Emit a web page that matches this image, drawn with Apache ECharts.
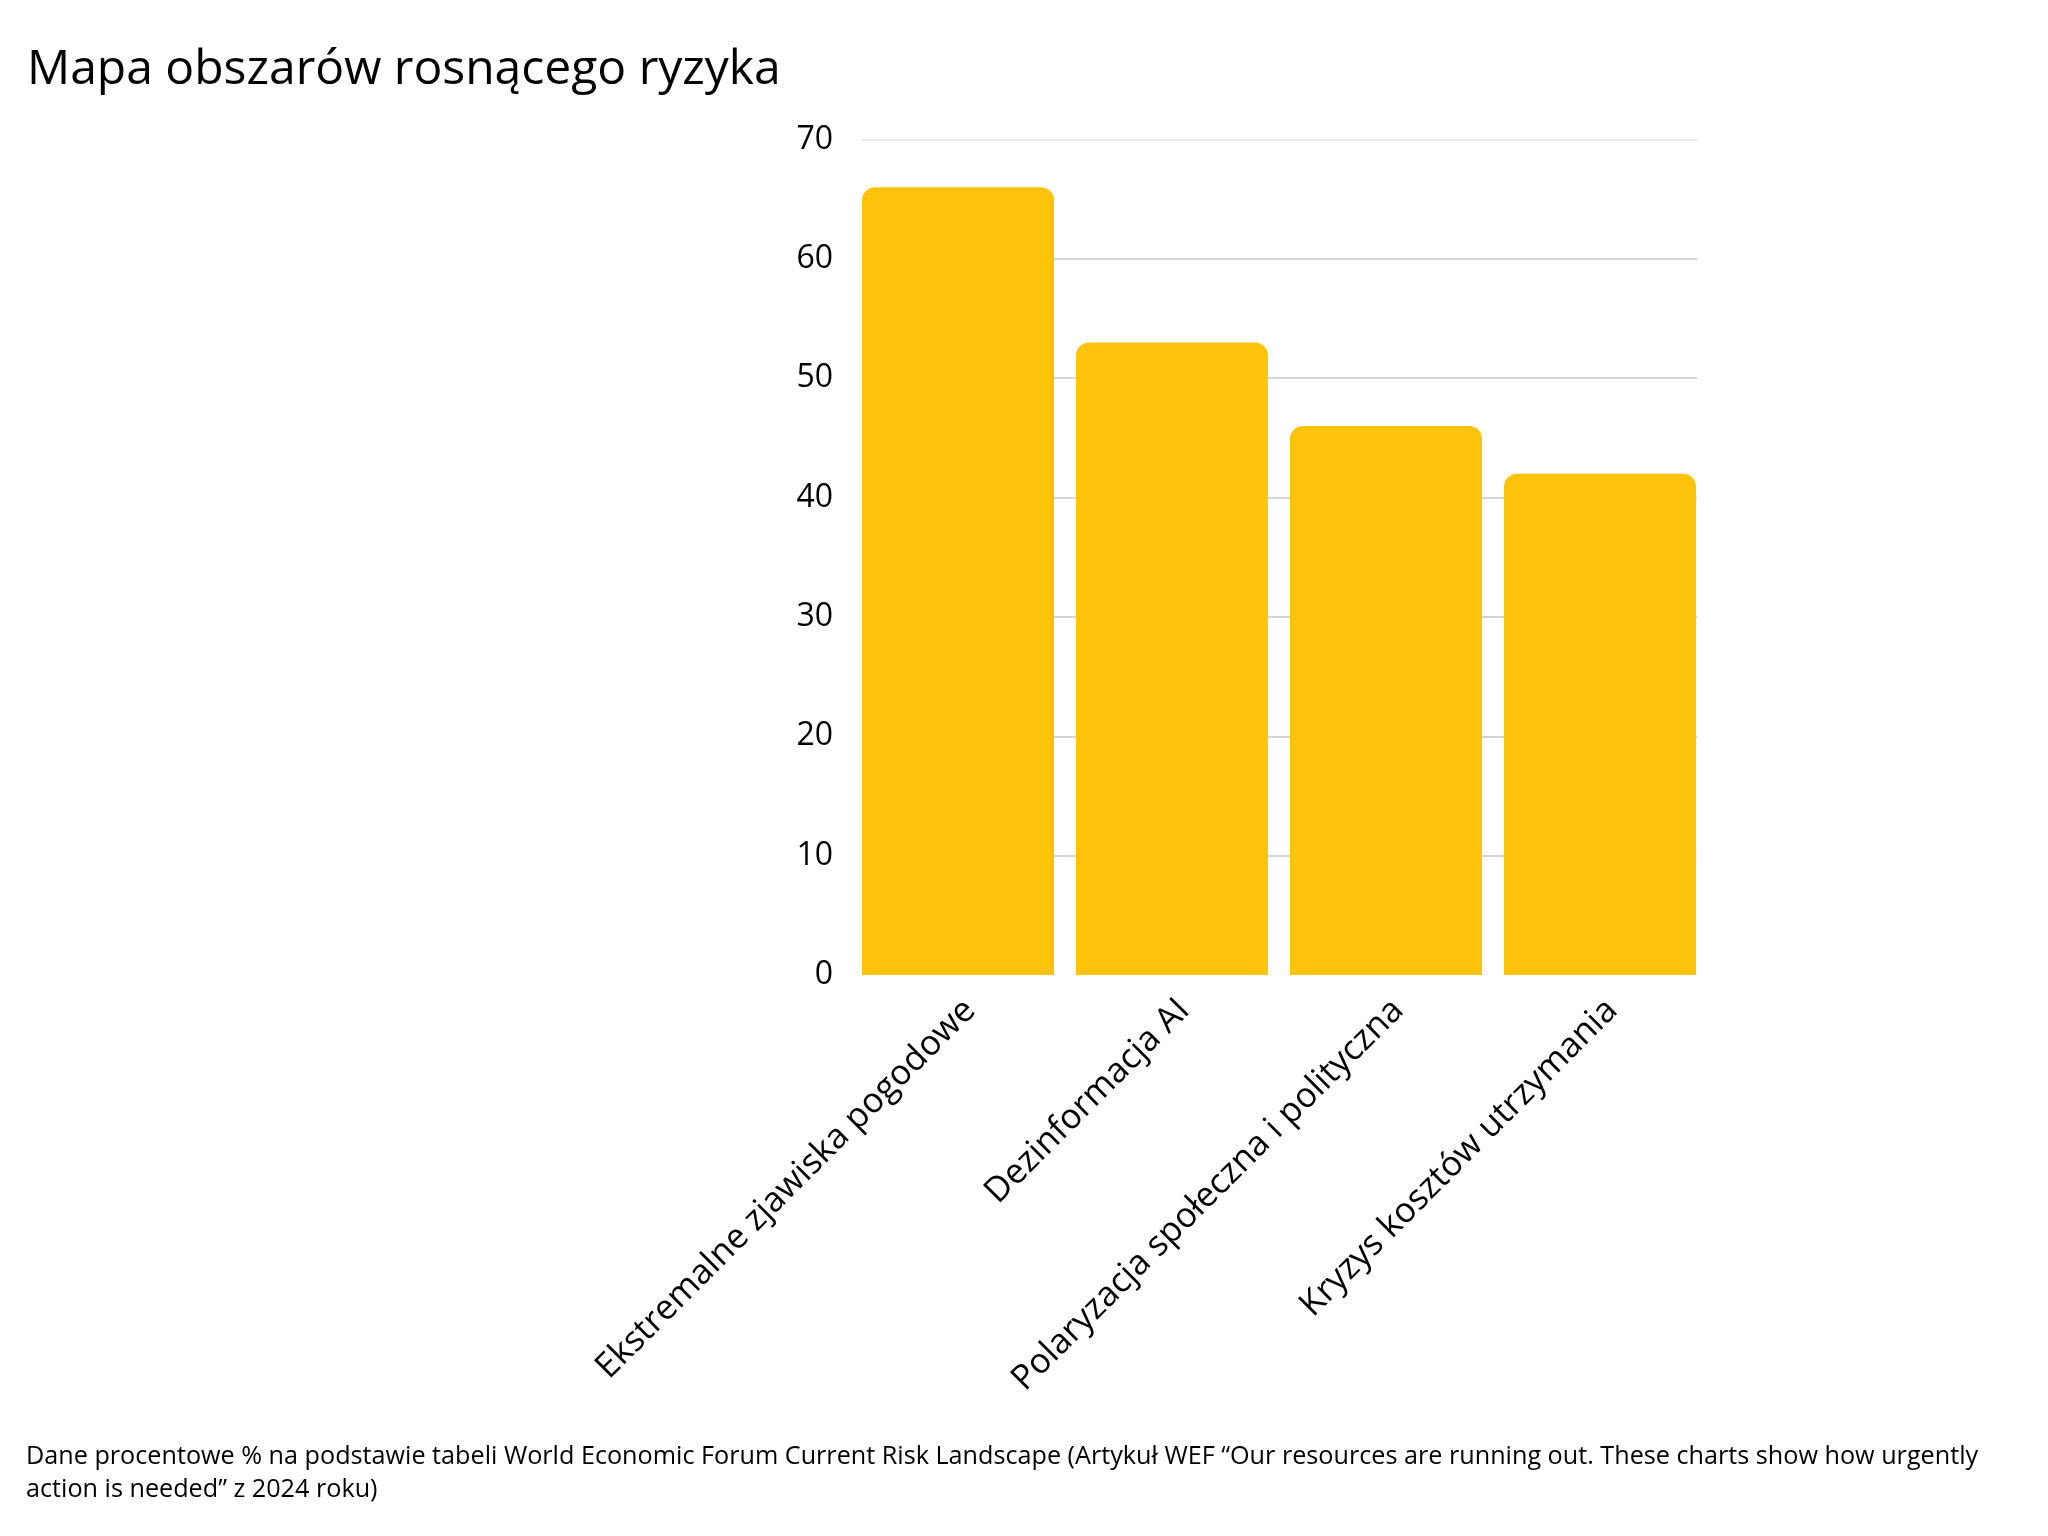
<!DOCTYPE html>
<html>
<head>
<meta charset="utf-8">
<script src="https://cdn.jsdelivr.net/npm/echarts@6/dist/echarts.min.js"></script>
<style>
html,body{margin:0;padding:0;background:#fff;}
#chart{width:2048px;height:1536px;}
</style>
</head>
<body>
<div id="chart"></div>
<script>
const titleText = 'Mapa obszarów rosnącego ryzyka';
const categories = ['Ekstremalne zjawiska pogodowe', 'Dezinformacja AI', 'Polaryzacja społeczna i polityczna', 'Kryzys kosztów utrzymania'];
const values = [66, 53, 46, 42];
const yTicks = [0, 10, 20, 30, 40, 50, 60, 70];
const footnoteLines = [
  'Dane procentowe % na podstawie tabeli World Economic Forum Current Risk Landscape (Artykuł WEF \u201cOur resources are running out. These charts show how urgently',
  'action is needed\u201d z 2024 roku)'
];

const FONT = '"Open Sans", sans-serif';
const chart = echarts.init(document.getElementById('chart'), null, {renderer: 'canvas'});

const yMin = yTicks[0], yMax = yTicks[yTicks.length - 1], yStep = yTicks[1] - yTicks[0];
const splitColors = yTicks.map((t, i) => i === 0 ? 'rgba(0,0,0,0)' : (i === yTicks.length - 1 ? '#e4e4e4' : '#c6c6c6'));

const TOP = 139.5, BOTTOM = 1536 - 975;

chart.setOption({
  backgroundColor: '#ffffff',
  animation: false,
  title: {
    text: titleText,
    left: 22,
    top: 41,
    textStyle: {fontFamily: FONT, fontSize: 48, fontWeight: 'normal', color: '#000'}
  },
  grid: [
    {left: 862, right: 2048 - 1697, top: TOP, bottom: BOTTOM},
    {left: 851, right: 2048 - 1707, top: TOP, bottom: BOTTOM},
    {left: 863, right: 2048 - 1719, top: TOP, bottom: BOTTOM}
  ],
  xAxis: [
    {gridIndex: 0, type: 'value', show: false},
    {gridIndex: 1, type: 'category', data: categories, show: false},
    {
      gridIndex: 2,
      type: 'category',
      data: categories,
      axisLine: {show: false},
      axisTick: {show: false},
      axisLabel: {
        rotate: 45,
        interval: 0,
        margin: 30,
        fontFamily: FONT,
        fontSize: 34.5,
        color: '#000'
      }
    }
  ],
  yAxis: [
    {
      gridIndex: 0,
      type: 'value',
      min: yMin,
      max: yMax,
      interval: yStep,
      axisLine: {show: false},
      axisTick: {show: false},
      axisLabel: {margin: 29, fontFamily: FONT, fontSize: 32, color: '#000'},
      splitLine: {show: true, lineStyle: {color: splitColors, width: 1.5}}
    },
    {gridIndex: 1, type: 'value', min: yMin, max: yMax, interval: yStep, show: false, splitLine: {show: false}},
    {gridIndex: 2, type: 'value', min: yMin, max: yMax, interval: yStep, show: false, splitLine: {show: false}}
  ],
  series: [
    {
      type: 'bar',
      xAxisIndex: 1,
      yAxisIndex: 1,
      data: values,
      barWidth: 192,
      itemStyle: {color: '#FDC20A', borderRadius: [13, 13, 0, 0]},
      z: 5
    }
  ],
  graphic: [
    {
      type: 'text',
      left: 26,
      top: 1440,
      style: {
        text: footnoteLines.join('\n'),
        font: '25.2px ' + FONT,
        lineHeight: 33,
        fill: '#000'
      }
    }
  ]
});
</script>
</body>
</html>
